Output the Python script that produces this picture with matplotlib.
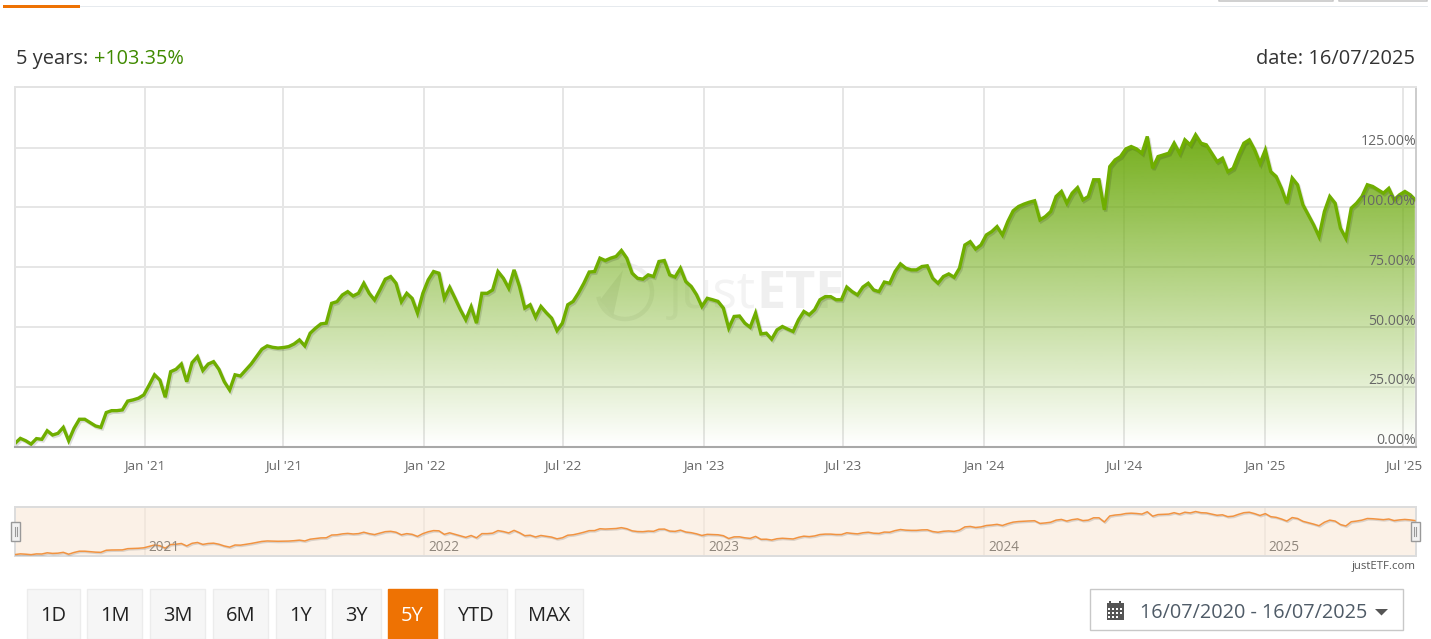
"""plot.py - ETF performance chart, 5 years, with navigator and range buttons."""
import matplotlib
matplotlib.use("Agg")
import matplotlib.pyplot as plt
import matplotlib.dates as mdates
import matplotlib.patches as mpatches
import matplotlib.patheffects as pe
import numpy as np
import pandas as pd

W, H = 1431, 639
plt.rcParams["font.family"] = ["Open Sans", "DejaVu Sans"]

# weekly readings, last one is the end date
perf = [
    1.3, 3.4, 2.4, 1.0, 3.3, 3.0, 6.6, 4.8, 5.5, 8.0, 2.4, 7.6, 11.4, 11.4, 10.0, 8.6, 8.0, 14.2, 15.0, 15.0,
    15.3, 19.0, 19.5, 20.2, 21.6, 25.7, 30.0, 27.8, 20.6, 31.3, 32.3, 34.5, 27.1, 35.1, 37.6, 31.8, 34.5, 35.5, 32.3, 27.1,
    23.6, 30.0, 29.5, 32.0, 34.5, 37.6, 40.7, 42.1, 41.5, 41.2, 41.4, 41.8, 42.9, 44.6, 42.1, 47.4, 49.5, 51.3, 51.6, 59.9,
    60.6, 63.4, 64.8, 63.0, 64.1, 68.3, 64.1, 61.3, 65.5, 70.0, 71.1, 68.3, 60.6, 64.1, 62.0, 55.8, 64.1, 69.7, 73.2, 72.5,
    62.0, 66.6, 62.0, 57.2, 53.0, 58.5, 51.6, 64.1, 64.1, 65.5, 73.2, 70.4, 66.2, 73.9, 67.0, 57.9, 59.3, 54.1, 58.6, 56.0,
    53.7, 48.5, 51.6, 59.3, 60.7, 64.2, 68.3, 73.0, 73.2, 78.8, 77.8, 78.8, 79.5, 82.0, 78.8, 72.5, 70.4, 70.0, 71.8, 71.1,
    77.4, 77.8, 71.8, 70.9, 74.6, 69.0, 67.0, 63.5, 58.6, 62.0, 61.4, 60.7, 57.9, 49.5, 54.4, 54.6, 51.6, 49.9, 55.8, 47.1,
    47.4, 44.9, 48.8, 50.2, 49.1, 48.1, 53.0, 56.5, 55.1, 57.2, 61.4, 62.7, 62.7, 61.4, 61.4, 66.7, 64.8, 63.4, 66.7, 68.3,
    65.5, 64.8, 68.8, 68.3, 73.2, 76.4, 74.6, 73.9, 73.9, 75.3, 75.6, 70.4, 68.3, 71.1, 72.2, 70.8, 74.6, 84.3, 85.7, 82.6,
    84.3, 88.5, 89.9, 92.0, 88.5, 94.1, 98.6, 100.4, 101.4, 102.2, 102.8, 94.8, 96.2, 98.3, 104.6, 106.7, 101.8, 106.0, 108.3, 103.2,
    104.6, 111.6, 111.6, 99.0, 117.1, 119.9, 121.3, 124.5, 125.5, 124.5, 122.7, 129.7, 116.4, 121.3, 122.0, 122.7, 126.9, 122.7, 128.3, 126.2,
    130.4, 126.9, 126.2, 122.7, 119.2, 120.6, 115.0, 116.4, 122.0, 126.9, 128.3, 124.1, 118.5, 124.1, 115.0, 113.0, 108.0, 101.8, 112.3, 109.5,
    101.1, 96.9, 92.7, 87.8, 98.3, 104.6, 101.8, 91.3, 87.1, 99.7, 101.8, 104.6, 109.5, 108.8, 107.4, 106.0, 108.0, 103.2, 105.3, 106.7,
    105.3, 103.35,
]
dates = list(pd.date_range("2020-07-16", periods=len(perf) - 1, freq="7D")) + [pd.Timestamp("2025-07-16")]

y_ticks = [0, 25, 50, 75, 100, 125]
x_tick_dates = ["2021-01-01", "2021-07-01", "2022-01-01", "2022-07-01", "2023-01-01",
                "2023-07-01", "2024-01-01", "2024-07-01", "2025-01-01", "2025-07-01"]
x_tick_labels = ["Jan '21", "Jul '21", "Jan '22", "Jul '22", "Jan '23",
                 "Jul '23", "Jan '24", "Jul '24", "Jan '25", "Jul '25"]
nav_years = [2021, 2022, 2023, 2024, 2025]

range_buttons = ["1D", "1M", "3M", "6M", "1Y", "3Y", "5Y", "YTD", "MAX"]
button_edges = [(27, 81), (87, 143), (150, 206), (213, 269), (276, 326),
                (332, 382), (388, 438), (444, 508), (515, 584)]
active_button = "5Y"


def px_axes(fig, left, top, right, bottom, **kw):
    """Axes given in picture pixels, y counted from the top."""
    return fig.add_axes([left / W, 1 - bottom / H, (right - left) / W, (bottom - top) / H], **kw)


fig = plt.figure(figsize=(W / 100, H / 100), dpi=100, facecolor="white")

# page furniture in pixel coordinates, under the charts
ui = px_axes(fig, 0, 0, W, H, zorder=0)
ui.set_xlim(0, W)
ui.set_ylim(H, 0)
ui.axis("off")


def rect(x0, y0, x1, y1, **kw):
    ui.add_patch(mpatches.Rectangle((x0, y0), x1 - x0, y1 - y0, **kw))


# tab rule and cut-off buttons at the very top
rect(80, 5.5, 1428, 7, fc="#e6eaee", ec="none")
rect(3, 5, 80, 8, fc="#ee7203", ec="none")
for x0, x1 in [(1218.5, 1332.5), (1338.5, 1427)]:
    ui.plot([x0, x0, x1, x1], [0, 1, 1, 0], color="#c8c8c8", lw=1.2)

# header
ui.text(15.5, 64, "5 years:", fontsize=14.45, color="#333333", va="baseline")
ui.text(94, 64, "+103.35%", fontsize=14.35, color="#3f8a00", va="baseline")
ui.text(1415.5, 64, "date: 16/07/2025", fontsize=14.45, color="#333333", va="baseline", ha="right")

# watermark
ui.add_patch(mpatches.Arc((625, 292), 54, 54, theta1=-100, theta2=170, color="#efefef", lw=3.2))
ui.add_patch(mpatches.Polygon([(600, 300), (623, 270), (613, 317)], fc="#ebebeb", ec="none"))
ui.text(669, 308, "just", fontsize=37, color="#f3f3f3", va="baseline")
ui.text(756, 308, "ETF", fontsize=37.5, color="#efefef", va="baseline", fontweight="bold")

# main chart
ax = px_axes(fig, 15, 87, 1416, 446.5, zorder=1)
ax.patch.set_alpha(0)
ax.set_axisbelow(True)
ax.grid(True, color="#e6e6e6", lw=1.4)

x_num = mdates.date2num(dates)
grad = np.zeros((256, 2, 4))
grad[..., 0] = 112 / 255
grad[..., 1] = 172 / 255
grad[..., 2] = 20 / 255
grad[..., 3] = np.linspace(0.97, 0.0, 256)[:, None]
img = ax.imshow(grad, extent=[x_num[0], x_num[-1], 0, max(perf)], aspect="auto", origin="upper", zorder=1.5)
area = ax.fill_between(dates, perf, 0, facecolor="none", edgecolor="none")
img.set_clip_path(area.get_paths()[0], transform=ax.transData)

ax.plot(dates, perf, color="#6fae00", lw=2.4, solid_joinstyle="miter", zorder=2,
        path_effects=[pe.SimpleLineShadow(offset=(1, -1.2), shadow_color="k", alpha=0.13), pe.Normal()])

ax.set_xlim(x_num[0], x_num[-1] + 1.5)
ax.set_ylim(0, 150.4)
ax.set_yticks(y_ticks)
ax.set_xticks(mdates.date2num(pd.to_datetime(x_tick_dates)))
ax.set_xticklabels(x_tick_labels)
ax.tick_params(axis="x", length=0, pad=9, labelsize=9.7, labelcolor="#666666")
ax.tick_params(axis="y", length=0, labelleft=False)
for v in y_ticks:
    ax.text(1, v - 0.7, f"{v:.2f}%", transform=ax.get_yaxis_transform(), ha="right", va="bottom",
            fontsize=10.1, color="#666666", zorder=5)
for side, col, lw in [("top", "#e3e3e3", 1.4), ("left", "#e3e3e3", 1.4), ("right", "#c4c4c4", 1.2), ("bottom", "#a8a8a8", 1.5)]:
    ax.spines[side].set_color(col)
    ax.spines[side].set_linewidth(lw)

# navigator
nav = px_axes(fig, 15, 507, 1416, 556, zorder=1, facecolor="#fbf1e7")
nav.plot(dates, perf, color="#f19341", lw=1.1, zorder=3,
         path_effects=[pe.SimpleLineShadow(offset=(0.7, -0.9), shadow_color="k", alpha=0.13), pe.Normal()])
nav.set_xlim(x_num[0], x_num[-1] + 1.5)
nav.set_ylim(-3, 144)
nav.set_yticks([])
nav.set_xticks([mdates.date2num(pd.Timestamp(year=y, month=1, day=1)) for y in nav_years])
nav.set_xticklabels([])
nav.tick_params(axis="x", length=0)
nav.grid(True, axis="x", color="#efe6dc", lw=1.2)
nav.set_axisbelow(True)
for y in nav_years:
    nav.annotate(str(y), (pd.Timestamp(year=y, month=1, day=1), 0), xycoords=("data", "axes fraction"),
                 xytext=(3, 3.5), textcoords="offset points", fontsize=9.8, color="#8f867c")
for spine in nav.spines.values():
    spine.set_color("#dcdcdc")
    spine.set_linewidth(1.4)

# navigator handles, drawn on a top layer
top = px_axes(fig, 0, 0, W, H, zorder=3)
top.patch.set_alpha(0)
top.set_xlim(0, W)
top.set_ylim(H, 0)
top.axis("off")
for cx in (15.5, 1415):
    top.add_patch(mpatches.Rectangle((cx - 4.5, 522), 9, 19, fc="#f2f2f2", ec="#999999", lw=1))
    top.plot([cx - 1, cx - 1], [527, 536], color="#999999", lw=0.8)
    top.plot([cx + 1.2, cx + 1.2], [527, 536], color="#999999", lw=0.8)

ui.text(1416, 569, "justETF.com", fontsize=8.2, color="#555555", ha="right", va="baseline")

# range buttons
for label, (x0, x1) in zip(range_buttons, button_edges):
    on = label == active_button
    rect(x0, 588.5, x1 - 1, 638.5, fc="#ee7203" if on else "#f6f6f6",
         ec="#ee7203" if on else "#ececec", lw=1)
    ui.text((x0 + x1 - 1) / 2, 621, label, fontsize=14.4, color="white" if on else "#222222",
            ha="center", va="baseline")

# date picker
rect(1090, 588.5, 1403, 629.5, fc="white", ec="#c8c8c8", lw=1)
rect(1106.5, 604, 1124, 620, fc="#555555", ec="none")
rect(1106.5, 603, 1124, 607, fc="#555555", ec="none")
for x in (1110, 1120):
    rect(x - 0.8, 600.5, x + 0.8, 604, fc="#555555", ec="none")
for row in (609, 613, 617):
    for x in (1109, 1113, 1117, 1121):
        if row == 617 and x == 1121:
            continue
        rect(x - 1, row - 1, x + 1, row + 1, fc="white", ec="none")
ui.text(1140, 618, "16/07/2020 - 16/07/2025", fontsize=14.3, color="#4f5b67", va="baseline")
ui.add_patch(mpatches.Polygon([(1375, 609), (1388, 609), (1381.5, 615.5)], fc="#555555", ec="none"))

fig.savefig("out.png", dpi=100)
plt.close(fig)
